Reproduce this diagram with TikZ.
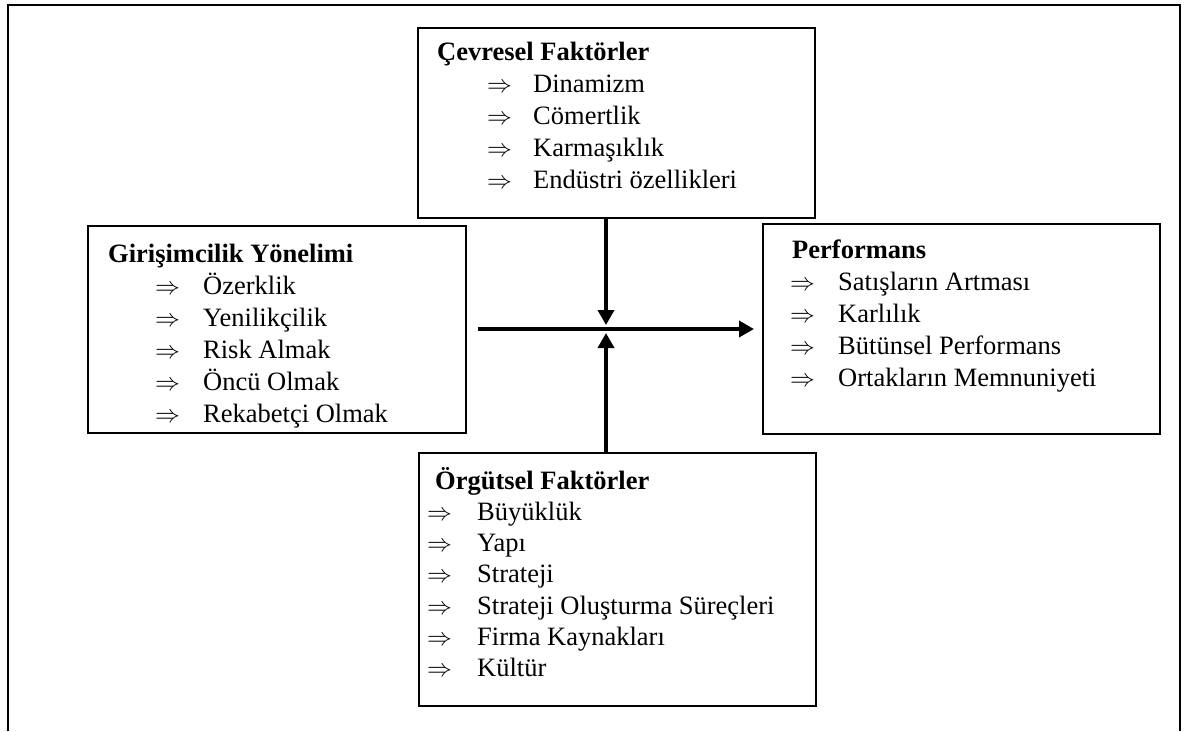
\documentclass[tikz,border=0pt]{standalone}
\usepackage{fontspec}
\setmainfont{Liberation Serif}
\usetikzlibrary{arrows.meta}
\begin{document}
\begin{tikzpicture}[x=1pt,y=-1pt,
  frame/.style={line width=2.6pt},
  panel/.style={draw, line width=1.7pt, rectangle, inner sep=0pt, anchor=north west},
  entry/.style={inner sep=0pt, anchor=base west, font=\fontsize{26.5}{32}\selectfont},
  head/.style={entry, font=\fontsize{26.5}{32}\selectfont\bfseries},
  flow/.style={line width=3.6pt, -{Triangle[length=15pt,width=16pt]}},
]
\useasboundingbox (0,0) rectangle (1190,731);

% outer frame, open at the bottom
\draw[frame] (8,731) -- (8,5) -- (1180,5) -- (1180,731);

% the four panels
\node[panel, minimum width=397pt, minimum height=190pt] (cev)  at (417,27)  {};
\node[panel, minimum width=378pt, minimum height=207pt] (gir)  at (87,225)  {};
\node[panel, minimum width=397pt, minimum height=210pt] (perf) at (762,223) {};
\node[panel, minimum width=397pt, minimum height=253pt] (org)  at (418,452) {};

% environmental factors
\node[head] (cev-h) at (437,60) {Çevresel Faktörler};
\foreach \t [count=\i] in {Dinamizm, Cömertlik, Karmaşıklık, Endüstri özellikleri} {
  \node[entry] (cev-k\i) at (487,{60+32*\i}) {$\Rightarrow$};
  \node[entry] (cev-t\i) at (533,{60+32*\i}) {\t};
}

% entrepreneurial orientation
\node[head] (gir-h) at (108,262) {Girişimcilik Yönelimi};
\foreach \t [count=\i] in {Özerklik, Yenilikçilik, Risk Almak, Öncü Olmak, Rekabetçi Olmak} {
  \node[entry] (gir-k\i) at (155,{262+32*\i}) {$\Rightarrow$};
  \node[entry] (gir-t\i) at (203,{262+32*\i}) {\t};
}

% performance
\node[head] (perf-h) at (792,258) {Performans};
\foreach \t [count=\i] in {Satışların Artması, Karlılık, Bütünsel Performans, Ortakların Memnuniyeti} {
  \node[entry] (perf-k\i) at (790,{258+32*\i}) {$\Rightarrow$};
  \node[entry] (perf-t\i) at (838,{258+32*\i}) {\t};
}

% organisational factors
\node[head] (org-h) at (435,489) {Örgütsel Faktörler};
\foreach \t [count=\i] in {Büyüklük, Yapı, Strateji, Strateji Oluşturma Süreçleri, Firma Kaynakları, Kültür} {
  \node[entry] (org-k\i) at (427,{489+31.3*\i}) {$\Rightarrow$};
  \node[entry] (org-t\i) at (477,{489+31.3*\i}) {\t};
}

% arrows meeting at the hub
\coordinate (hub) at (606,329);
\draw[flow, shorten >=4pt] (cev.south -| hub) -- (hub);
\draw[flow, shorten >=4pt] (org.north -| hub) -- (hub);
\draw[flow, shorten <=11pt, shorten >=8pt] (gir.east |- hub) -- (perf.west |- hub);
\end{tikzpicture}
\end{document}
